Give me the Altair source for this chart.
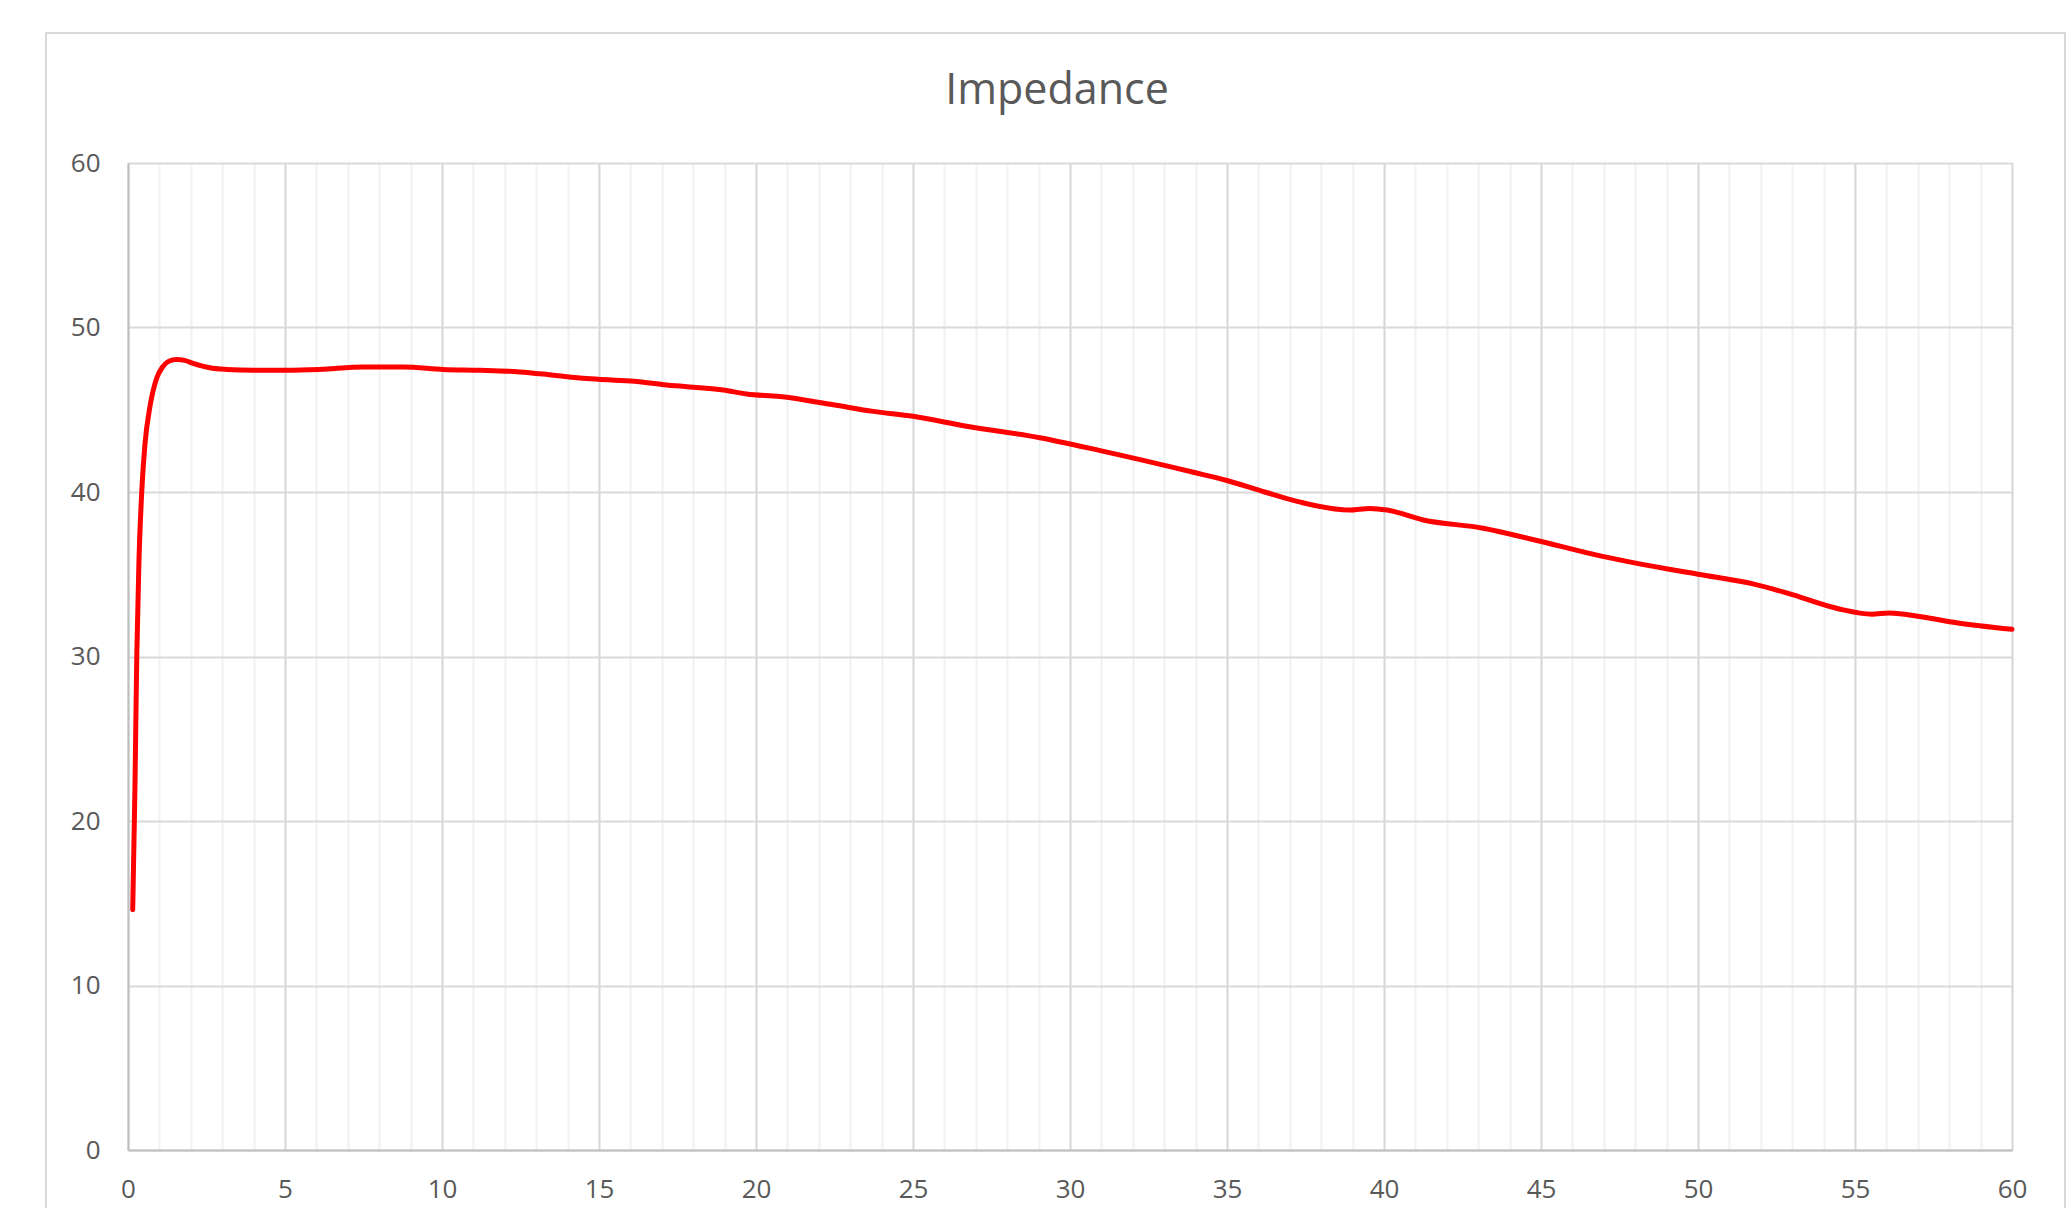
import altair as alt
import pandas as pd

# Impedance curve
time_vals = [0.15, 0.22, 0.28, 0.35, 0.44, 0.54, 0.70, 0.91, 1.10, 1.30, 1.55, 1.80, 2.10, 2.60, 3.14,
             4.0, 5.05, 6.1, 7.5, 8.77, 10.04, 11.2, 12.48, 13.55, 14.6, 15.5, 16.0, 17.15,
             18.96, 19.7, 20.76, 22.46, 23.74, 25.0, 26.7, 29.04, 31.0, 33.93, 35.0, 36.2,
             37.3, 38.9, 39.55, 40.1, 41.25, 43.16, 44.77, 46.92, 48.22, 50.0, 51.78, 52.85,
             54.47, 55.54, 56.08, 57.16, 58.23, 60.0]
impedance_vals = [14.6, 21.9, 30.1, 35.9, 40.1, 42.9, 45.2, 46.9, 47.6, 47.95, 48.05, 48.0, 47.8, 47.55, 47.45,
                  47.4, 47.4, 47.45, 47.6, 47.6, 47.45, 47.4, 47.3, 47.1, 46.9, 46.8, 46.75, 46.5,
                  46.2, 45.96, 45.8, 45.3, 44.9, 44.6, 44.0, 43.3, 42.5, 41.2, 40.7, 40.0,
                  39.4, 38.9, 39.0, 38.9, 38.3, 37.8, 37.1, 36.1, 35.6, 35.0, 34.4, 33.85,
                  32.9, 32.57, 32.65, 32.4, 32.05, 31.65]

x_ticks = list(range(0, 61, 1))
y_ticks = [0, 10, 20, 30, 40, 50, 60]

df = pd.DataFrame({"t": time_vals, "z": impedance_vals})

FONT = "Open Sans"
LABEL_COLOR = "#595959"

x_enc = alt.X(
    "t:Q",
    scale=alt.Scale(domain=[0, 60], nice=False, zero=False),
    axis=alt.Axis(
        values=x_ticks,
        title=None,
        ticks=False,
        labelPadding=26,
        labelFontSize=26,
        labelFont=FONT,
        labelColor=LABEL_COLOR,
        labelExpr="datum.value % 5 == 0 ? datum.label : ''",
        labelFlush=False,
        labelOverlap=False,
        domainColor="#bfbfbf",
        domainWidth=2,
        grid=True,
        gridColor=alt.condition("datum.value % 5 == 0", alt.value("#d6d6d6"), alt.value("#f1f1f1")),
        gridWidth=2,
    ),
)
y_enc = alt.Y(
    "z:Q",
    scale=alt.Scale(domain=[0, 60], nice=False),
    axis=alt.Axis(
        values=y_ticks,
        title=None,
        ticks=False,
        labelPadding=28,
        labelFontSize=26,
        labelFont=FONT,
        labelColor=LABEL_COLOR,
        domainColor="#bfbfbf",
        domainWidth=2,
        grid=True,
        gridColor="#d9d9d9",
        gridWidth=2,
    ),
)

line = alt.Chart(df).mark_line(
    color="#ff0000", strokeWidth=5, interpolate="monotone", strokeCap="round", strokeJoin="round"
).encode(x=x_enc, y=y_enc)

frame = alt.Chart(alt.Data(values=[{"a": 1}])).mark_rect(
    filled=False, stroke="#d9d9d9", strokeWidth=2, clip=False
).encode(
    x=alt.value(-82), x2=alt.value(1937), y=alt.value(-130), y2=alt.value(1070)
)

chart = alt.layer(frame, line).properties(
    width=1884,
    height=987,
    title=alt.TitleParams(
        "Impedance",
        font=FONT,
        fontSize=43,
        fontWeight="normal",
        color=LABEL_COLOR,
        anchor="middle",
        baseline="alphabetic",
        offset=-115,
        dx=-13,
    ),
    autosize=alt.AutoSizeParams(type="none"),
    padding={"left": 128, "top": 163, "right": 56, "bottom": 58},
).configure_view(stroke="#d9d9d9", strokeWidth=2).configure(background="white")

chart.save("out.html", embed_options={"renderer": "svg", "actions": False})
